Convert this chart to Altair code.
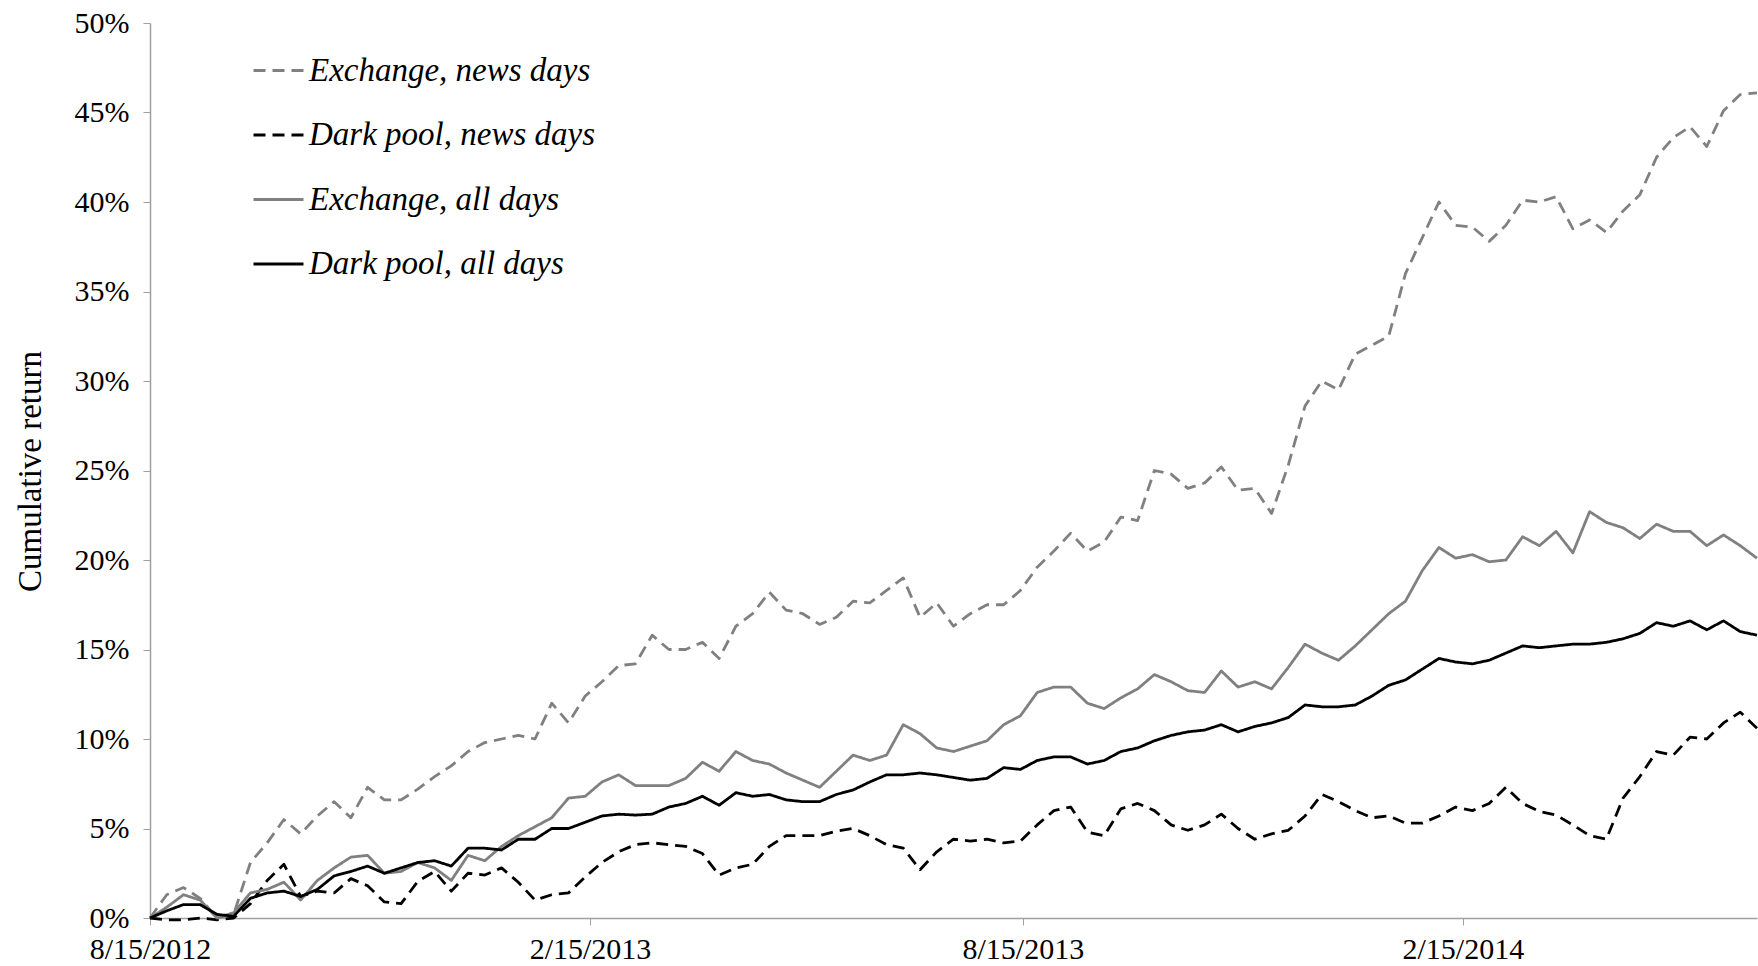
import altair as alt
import pandas as pd

START = "2012-08-15"
N_WEEKS = 97  # weekly observations, 2012-08-15 .. 2014-06-18

exch_news = [0.0, 1.3, 1.7, 1.1, 0.0, 0.2, 3.1, 4.2, 5.5, 4.7,
             5.7, 6.5, 5.6, 7.3, 6.6, 6.6, 7.2, 7.9, 8.5, 9.3,
             9.8, 10.0, 10.2, 10.0, 12.0, 10.9, 12.4, 13.2, 14.1, 14.2,
             15.8, 15.0, 15.0, 15.4, 14.5, 16.3, 17.0, 18.2, 17.2, 17.0,
             16.4, 16.8, 17.7, 17.6, 18.3, 19.0, 16.8, 17.6, 16.3, 17.0,
             17.5, 17.5, 18.3, 19.6, 20.5, 21.5, 20.5, 21.0, 22.4, 22.2,
             25.0, 24.8, 24.0, 24.3, 25.2, 23.9, 24.0, 22.6, 25.3, 28.6,
             30.0, 29.5, 31.5, 32.0, 32.5, 36.0, 38.0, 40.0, 38.7, 38.6,
             37.8, 38.7, 40.1, 40.0, 40.3, 38.5, 39.0, 38.3, 39.5, 40.4,
             42.5, 43.6, 44.2, 43.1, 45.1, 46.0, 46.1]

dark_news = [0.0, -0.1, -0.1, 0.0, -0.1, 0.0, 0.8, 2.1, 3.0, 1.2,
             1.5, 1.4, 2.2, 1.8, 0.9, 0.8, 2.05, 2.6, 1.5, 2.5,
             2.4, 2.8, 2.0, 1.0, 1.3, 1.4, 2.3, 3.1, 3.7, 4.1,
             4.2, 4.1, 4.0, 3.6, 2.4, 2.8, 3.0, 4.0, 4.6, 4.6,
             4.6, 4.85, 5.0, 4.6, 4.1, 3.9, 2.7, 3.7, 4.4, 4.3,
             4.4, 4.2, 4.3, 5.2, 6.0, 6.2, 4.8, 4.6, 6.1, 6.4,
             6.0, 5.2, 4.9, 5.2, 5.8, 5.0, 4.4, 4.7, 4.9, 5.7,
             6.9, 6.5, 6.0, 5.6, 5.7, 5.3, 5.3, 5.7, 6.2, 6.0,
             6.4, 7.3, 6.4, 5.95, 5.75, 5.2, 4.6, 4.4, 6.7, 7.9,
             9.3, 9.1, 10.1, 10.0, 10.9, 11.5, 10.6]

exch_all = [0.0, 0.6, 1.3, 1.0, 0.0, 0.3, 1.4, 1.6, 2.0, 1.0,
            2.1, 2.8, 3.4, 3.5, 2.5, 2.6, 3.1, 2.8, 2.1, 3.5,
            3.2, 4.0, 4.6, 5.1, 5.6, 6.7, 6.8, 7.6, 8.0, 7.4,
            7.4, 7.4, 7.8, 8.7, 8.2, 9.3, 8.8, 8.6, 8.1, 7.7,
            7.3, 8.2, 9.1, 8.8, 9.1, 10.8, 10.3, 9.5, 9.3, 9.6,
            9.9, 10.8, 11.3, 12.6, 12.9, 12.9, 12.0, 11.7, 12.3, 12.8,
            13.6, 13.2, 12.7, 12.6, 13.8, 12.9, 13.2, 12.8, 14.0, 15.3,
            14.8, 14.4, 15.2, 16.1, 17.0, 17.7, 19.4, 20.7, 20.1, 20.3,
            19.9, 20.0, 21.3, 20.8, 21.6, 20.4, 22.7, 22.1, 21.8, 21.2,
            22.0, 21.6, 21.6, 20.8, 21.4, 20.8, 20.1]

dark_all = [0.0, 0.4, 0.75, 0.75, 0.2, 0.1, 1.1, 1.4, 1.5, 1.2,
            1.6, 2.35, 2.6, 2.9, 2.5, 2.8, 3.1, 3.2, 2.9, 3.9,
            3.9, 3.8, 4.4, 4.4, 5.0, 5.0, 5.35, 5.7, 5.8, 5.75,
            5.8, 6.2, 6.4, 6.8, 6.3, 7.0, 6.8, 6.9, 6.6, 6.5,
            6.5, 6.9, 7.15, 7.6, 8.0, 8.0, 8.1, 8.0, 7.85, 7.7,
            7.8, 8.4, 8.3, 8.8, 9.0, 9.0, 8.6, 8.8, 9.3, 9.5,
            9.9, 10.2, 10.4, 10.5, 10.8, 10.4, 10.7, 10.9, 11.2, 11.9,
            11.8, 11.8, 11.9, 12.4, 13.0, 13.3, 13.9, 14.5, 14.3, 14.2,
            14.4, 14.8, 15.2, 15.1, 15.2, 15.3, 15.3, 15.4, 15.6, 15.9,
            16.5, 16.3, 16.6, 16.1, 16.6, 16.0, 15.8]

series_names = ["Exchange, news days", "Dark pool, news days",
                "Exchange, all days", "Dark pool, all days"]
series_values = [exch_news, dark_news, exch_all, dark_all]
series_colors = ["#808080", "#000000", "#808080", "#000000"]
series_dash = [[12, 7], [12, 7], [1, 0], [1, 0]]

tick_dates = ["2012-08-15", "2013-02-15", "2013-08-15", "2014-02-15"]
y_ticks = [0, 5, 10, 15, 20, 25, 30, 35, 40, 45, 50]

dates = pd.date_range(START, periods=N_WEEKS, freq="7D")
rows = []
for name, vals in zip(series_names, series_values):
    for d, v in zip(dates, vals):
        rows.append({"date": d.strftime("%Y-%m-%d"), "value": v, "series": name})
df = pd.DataFrame(rows)

FONT = "Liberation Serif"


def dt(s):
    y, m, d = (int(p) for p in s.split("-"))
    return alt.DateTime(year=y, month=m, date=d, utc=True)


def legend():
    return alt.Legend(title=None, orient="none", legendX=102, legendY=21,
                      labelFont=FONT, labelFontSize=33,
                      labelFontStyle="italic", labelColor="#000000",
                      symbolType="stroke", symbolSize=2500,
                      symbolStrokeWidth=3, rowPadding=20.5,
                      labelOffset=4, labelLimit=600)


chart = alt.Chart(df).mark_line(strokeWidth=2.8, strokeJoin="round").encode(
    x=alt.X("date:T",
            scale=alt.Scale(type="utc", domain=[dt(START), dt("2014-06-18")], nice=False),
            axis=alt.Axis(title=None, values=[dt(s) for s in tick_dates],
                          labelExpr="utcFormat(datum.value, '%-m/%-d/%Y')",
                          labelFlush=False, labelOverlap=False,
                          labelFontSize=30, labelFont=FONT, labelColor="#000000",
                          labelPadding=9, tickSize=7, grid=False,
                          domainColor="#a0a0a0", tickColor="#a0a0a0",
                          domainWidth=1.5, tickWidth=1)),
    y=alt.Y("value:Q",
            scale=alt.Scale(domain=[0, 50], nice=False, zero=False),
            axis=alt.Axis(title="Cumulative return", values=y_ticks,
                          labelExpr="datum.value + '%'",
                          labelFlush=False,
                          labelFontSize=30, labelFont=FONT, labelColor="#000000",
                          labelPadding=14, tickSize=7, grid=False,
                          domainColor="#a0a0a0", tickColor="#a0a0a0",
                          domainWidth=1.5, tickWidth=1,
                          titleFont=FONT, titleFontSize=33, titleFontWeight="normal",
                          titleColor="#000000", titleAngle=-90,
                          titleX=-120, titleY=448, titleAlign="center",
                          titleBaseline="middle")),
    color=alt.Color("series:N",
                    scale=alt.Scale(domain=series_names, range=series_colors),
                    legend=legend()),
    strokeDash=alt.StrokeDash("series:N",
                              scale=alt.Scale(domain=series_names, range=series_dash),
                              legend=legend()),
    order=alt.Order("series_order:Q"),
).transform_calculate(
    series_order="indexof(['Dark pool, all days','Exchange, all days','Dark pool, news days','Exchange, news days'], datum.series)"
).properties(
    width=1607, height=895,
    autosize=alt.AutoSizeParams(type="none"),
    padding={"left": 150, "top": 23, "right": 1, "bottom": 48},
    background="#ffffff",
).configure_view(stroke=None)

chart.save("out.html", embed_options={"renderer": "svg", "actions": False})
